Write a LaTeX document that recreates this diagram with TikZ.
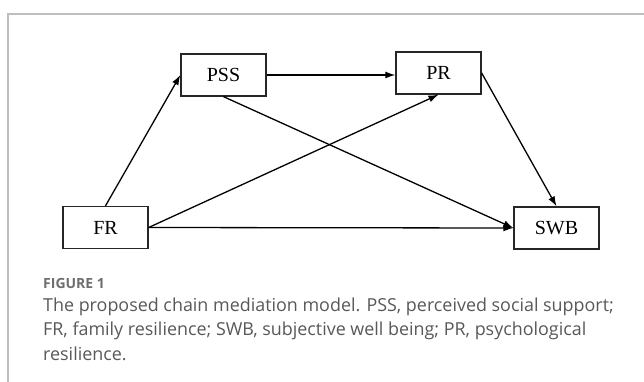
\documentclass[tikz,border=0pt]{standalone}
\usepackage{fontspec}
\setmainfont{Liberation Serif}
\newfontfamily\capfont{Open Sans}
\usetikzlibrary{arrows.meta}
\definecolor{capgray}{RGB}{88,88,88}
\definecolor{labgray}{RGB}{110,110,110}
\definecolor{framegray}{RGB}{190,190,190}
\begin{document}
\begin{tikzpicture}[x=1pt, y=-1pt,
    var/.style={draw=black!85, line width=1.3pt, minimum width=85pt, minimum height=42pt,
      inner sep=0pt, font=\fontsize{20}{24}\selectfont},
    path/.style={-{Latex[length=10pt,width=7pt]}, line width=1.3pt}]
    \useasboundingbox (0,0) rectangle (644,382);
    \draw[framegray, line width=1.5pt] (8,382) -- (8,14) -- (644,14);

    \node[var] (PSS) at (223.5,75) {PSS};
    \node[var] (PR) at (438.5,73) {PR};
    \node[var] (FR) at (105.5,227.5) {FR};
    \node[var] (SWB) at (556.5,228) {SWB};

    \draw[path] (FR.north) -- (PSS.west);
    \draw[path] (PSS.east) -- (PR.west |- PSS.east);
    \draw[path] (PSS.south) -- (SWB.west);
    \draw[path] (FR.east) -- (PR.south);
    \draw[path] (PR.east) -- (SWB.north);
    \draw[path] (FR.east) -- (SWB.west);

    \node[anchor=base west, inner sep=0pt, text=labgray,
      font=\capfont\bfseries\fontsize{14}{16}\selectfont] (fig) at (43,288) {FIGURE 1};
    % base of a multi-line node is its last line
    \node[anchor=base west, inner sep=0pt, text=capgray, align=left,
      font=\capfont\fontsize{17.9}{24.2}\selectfont] (cap) at (43,360)
      {The proposed chain mediation model. PSS, perceived social support;\\
       FR, family resilience; SWB, subjective well being; PR, psychological\\
       resilience.};
\end{tikzpicture}
\end{document}
